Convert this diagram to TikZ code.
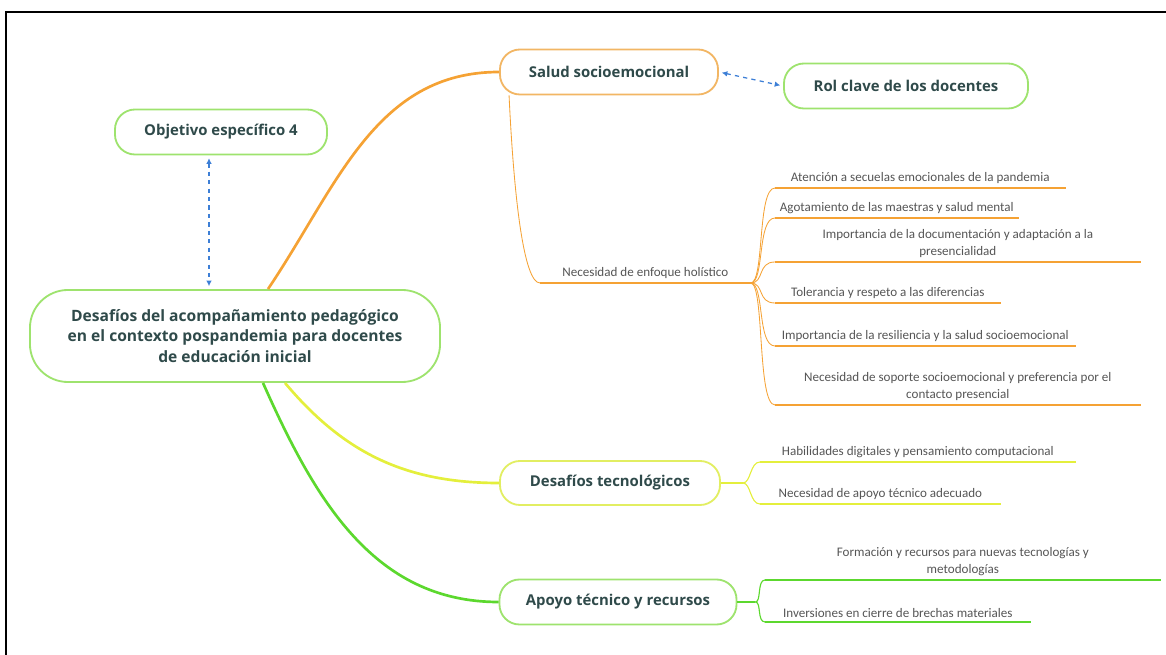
\documentclass[tikz,border=0pt]{standalone}
\usepackage{fontspec}
\setmainfont{Open Sans}
\newfontfamily\leaffont{Carlito}
\usetikzlibrary{calc,arrows.meta}
\definecolor{ink}{HTML}{2F4A4A}
\definecolor{leafink}{HTML}{555555}
\definecolor{ora}{HTML}{F5A234}
\definecolor{yel}{HTML}{E4EF3C}
\definecolor{grn}{HTML}{5CD82E}
\definecolor{boxgrn}{HTML}{9EE36E}
\definecolor{boxora}{HTML}{F2B664}
\definecolor{boxyel}{HTML}{E2EE62}
\definecolor{lnk}{HTML}{3D7FD6}
\begin{document}
\begin{tikzpicture}[x=0.025cm,y=-0.025cm,
  topic/.style={draw=#1,line width=1.3pt,fill=white,rounded corners=0.5cm,text=ink,font=\bfseries\fontsize{10.6}{12}\selectfont,inner sep=2pt},
  leaf/.style={anchor=south west,align=center,text=leafink,font=\leaffont\fontsize{9.3}{12}\selectfont,inner xsep=0pt,inner ysep=3pt,minimum width=#1},
  link/.style={lnk,dashed,line width=0.9pt,{Latex[length=4pt,width=4pt]}-{Latex[length=4pt,width=4pt]},shorten <=2pt,shorten >=2pt}]
\useasboundingbox (0,0) rectangle (1166,655);
\draw[line width=1.4pt] (6,655) -- (6,12) -- (1166,12);
% topics
\node[topic=boxgrn,minimum width=5.3cm,minimum height=1.125cm] (obj) at (221,132) {Objetivo específico 4};
\node[topic=boxgrn,minimum width=10.25cm,minimum height=2.3cm,rounded corners=0.95cm,align=center,font=\bfseries\fontsize{11.1}{14.5}\selectfont] (main) at (235,336)
  {Desafíos del acompañamiento pedagógico\\en el contexto pospandemia para docentes\\de educación inicial};
\node[topic=boxora,minimum width=5.45cm,minimum height=1.125cm] (salud) at (609,72) {Salud socioemocional};
\node[topic=boxgrn,minimum width=6.1cm,minimum height=1.125cm] (rol) at (906,86) {Rol clave de los docentes};
\node[topic=boxyel,minimum width=5.5cm,minimum height=1.1cm] (tec) at (610,483) {Desafíos tecnológicos};
\node[topic=boxgrn,minimum width=5.925cm,minimum height=1.125cm] (apoyo) at (618,602) {Apoyo técnico y recursos};
% leaves
\node[leaf=5.25cm] (nec) at (540,283) {Necesidad de enfoque holístico};
\node[leaf=7.25cm] (s1) at (775,188) {Atención a secuelas emocionales de la pandemia};
\node[leaf=6.075cm] (s2) at (775,218) {Agotamiento de las maestras y salud mental};
\node[leaf=9.125cm] (s3) at (775,262) {Importancia de la documentación y adaptación a la\\presencialidad};
\node[leaf=5.625cm] (s4) at (775,303) {Tolerancia y respeto a las diferencias};
\node[leaf=7.5cm] (s5) at (775,346) {Importancia de la resiliencia y la salud socioemocional};
\node[leaf=9.125cm] (s6) at (775,405) {Necesidad de soporte socioemocional y preferencia por el\\contacto presencial};
\node[leaf=7.875cm] (t1) at (760,462) {Habilidades digitales y pensamiento computacional};
\node[leaf=6cm] (t2) at (760,504) {Necesidad de apoyo técnico adecuado};
\node[leaf=9.875cm] (a1) at (765,580) {Formación y recursos para nuevas tecnologías y\\metodologías};
\node[leaf=6.625cm] (a2) at (765,622) {Inversiones en cierre de brechas materiales};
% main branches
\draw[ora,line width=1.9pt] ($(main.north)+(33,0)$) to[out=56,in=180] (salud.west);
\draw[yel,line width=1.9pt] ($(main.south)+(50,0)$) to[out=-50,in=180] (tec.west);
\draw[grn,line width=1.9pt] ($(main.south)+(28,0)$) to[out=-66,in=180] (apoyo.west);
% sub branches
\draw[ora,line width=0.6pt] ($(salud.south west)+(10,0)$) .. controls (514,200) and (524,283) .. (nec.south west);
\draw[ora,line width=1.8pt] (nec.south west) -- (nec.south east);
\foreach \n in {s1,s2,s3,s4,s5,s6}{
  \draw[ora,line width=0.6pt] (nec.south east) .. controls +(14,0) and +(-18,0) .. (\n.south west);
  \draw[ora,line width=1.8pt] (\n.south west) -- (\n.south east);
}
\coordinate (tfork) at ($(tec.east)+(22,0)$);
\draw[yel,line width=0.8pt] (tec.east) -- (tfork);
\foreach \n in {t1,t2}{
  \draw[yel,line width=0.8pt] (tfork) .. controls +(8,0) and +(-10,0) .. (\n.south west);
  \draw[yel,line width=1.8pt] (\n.south west) -- (\n.south east);
}
\coordinate (afork) at ($(apoyo.east)+(18,0)$);
\draw[grn,line width=0.8pt] (apoyo.east) -- (afork);
\foreach \n in {a1,a2}{
  \draw[grn,line width=0.8pt] (afork) .. controls +(6,0) and +(-8,0) .. (\n.south west);
  \draw[grn,line width=1.8pt] (\n.south west) -- (\n.south east);
}
% relations
\draw[link] ([xshift=-0.3cm]obj.south) -- ([xshift=-0.3cm]obj.south |- main.north);
\draw[link] (salud.east) -- (rol.west);
\end{tikzpicture}
\end{document}
